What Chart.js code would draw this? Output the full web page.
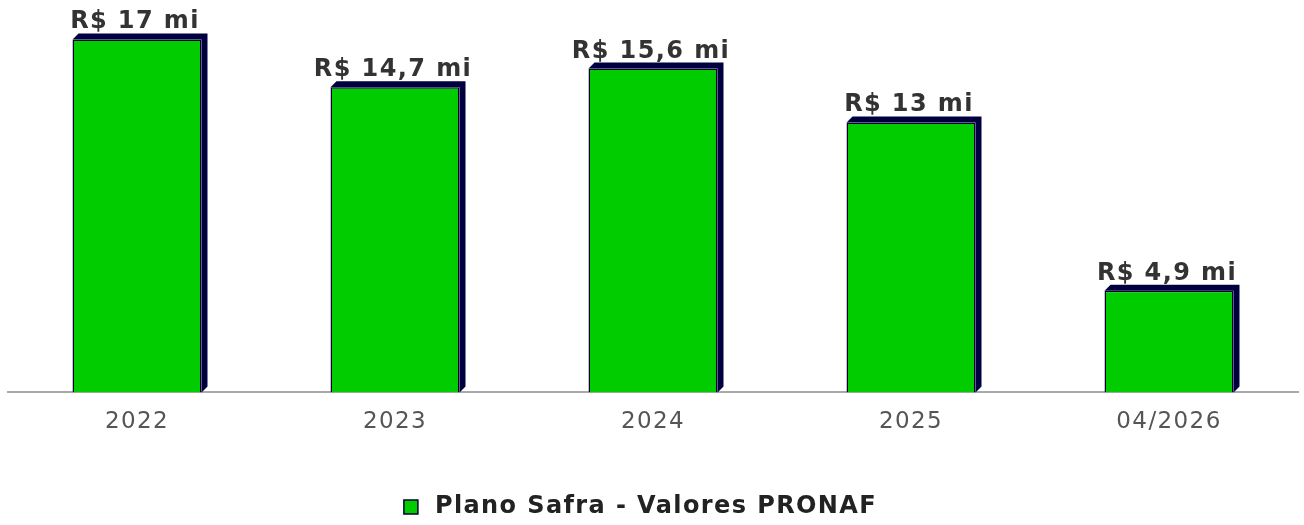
<!DOCTYPE html>
<html lang="pt-BR">
<head>
  <meta charset="UTF-8">
  <title>Plano Safra - Valores PRONAF</title>
  <script src="https://cdn.jsdelivr.net/npm/chart.js"></script>
  <style>
    html, body {
      margin: 0;
      padding: 0;
      background: #fff;
    }
    .chart-box {
      width: 1304px;
      height: 525px;
    }
  </style>
</head>
<body>
  <div class="chart-box">
    <canvas id="chartPronaf"></canvas>
  </div>

  <script>
    const labels = ['2022', '2023', '2024', '2025', '04/2026'];
    const valores = [17, 14.7, 15.6, 13, 4.9];
    const rotulos = ['R$ 17 mi', 'R$ 14,7 mi', 'R$ 15,6 mi', 'R$ 13 mi', 'R$ 4,9 mi'];

    const spacing = '1.4px';
    const depth = 6;

    // fonte um pouco mais larga (espacamento) e barra "3D": topo e lateral escuros
    const bar3d = {
      id: 'bar3d',
      beforeLayout(chart) {
        chart.ctx.letterSpacing = spacing;
      },
      afterLayout(chart) {
        // legenda um pouco para a esquerda, como no original
        if (chart.legend) {
          chart.legend.left -= 15;
          chart.legend.right -= 15;
        }
      },
      beforeDraw(chart) {
        chart.ctx.letterSpacing = spacing;
      },
      beforeDatasetsDraw(chart) {
        const ctx = chart.ctx;
        ctx.save();
        ctx.fillStyle = '#000040';
        chart.getDatasetMeta(0).data.forEach(bar => {
          const p = bar.getProps(['x', 'y', 'width', 'base'], true);
          const l = p.x - p.width / 2, r = p.x + p.width / 2;
          ctx.beginPath();
          ctx.moveTo(l, p.y);
          ctx.lineTo(l + depth, p.y - depth);
          ctx.lineTo(r + depth, p.y - depth);
          ctx.lineTo(r + depth, p.base - depth);
          ctx.lineTo(r, p.base);
          ctx.lineTo(r, p.y);
          ctx.closePath();
          ctx.fill();
        });
        ctx.restore();
      },
      afterDatasetsDraw(chart) {
        const ctx = chart.ctx;
        ctx.save();
        ctx.font = 'bold 24px "DejaVu Sans"';
        ctx.fillStyle = '#333';
        ctx.textAlign = 'center';
        ctx.textBaseline = 'alphabetic';
        chart.getDatasetMeta(0).data.forEach((bar, i) => {
          ctx.fillText(rotulos[i], bar.x - 2, bar.y - 11);
        });
        ctx.restore();
      }
    };

    new Chart(document.getElementById('chartPronaf'), {
      type: 'bar',
      data: {
        labels: labels,
        datasets: [{
          label: 'Plano Safra - Valores PRONAF',
          data: valores,
          backgroundColor: '#00cc00',
          borderColor: '#000033',
          borderWidth: 1.5,
          borderSkipped: 'bottom',
          barPercentage: 0.5,
          categoryPercentage: 1
        }]
      },
      options: {
        responsive: true,
        maintainAspectRatio: false,
        animation: false,
        layout: {
          padding: { left: 8, right: 6, top: 0, bottom: -4 }
        },
        plugins: {
          legend: {
            position: 'bottom',
            labels: {
              usePointStyle: true,
              pointStyle: 'rect',
              boxHeight: 14,
              padding: 21,
              color: '#222',
              font: { family: 'DejaVu Sans', size: 24, weight: 'bold' }
            }
          },
          tooltip: { enabled: false }
        },
        scales: {
          x: {
            grid: { display: false },
            border: { display: true, color: '#aaa', width: 2 },
            ticks: {
              color: '#555',
              padding: 8,
              font: { family: 'DejaVu Sans', size: 23 }
            },
            afterFit(scale) {
              scale.height += 30;
            }
          },
          y: {
            display: false,
            min: 0,
            max: 18.9
          }
        }
      },
      plugins: [bar3d]
    });
  </script>
</body>
</html>
